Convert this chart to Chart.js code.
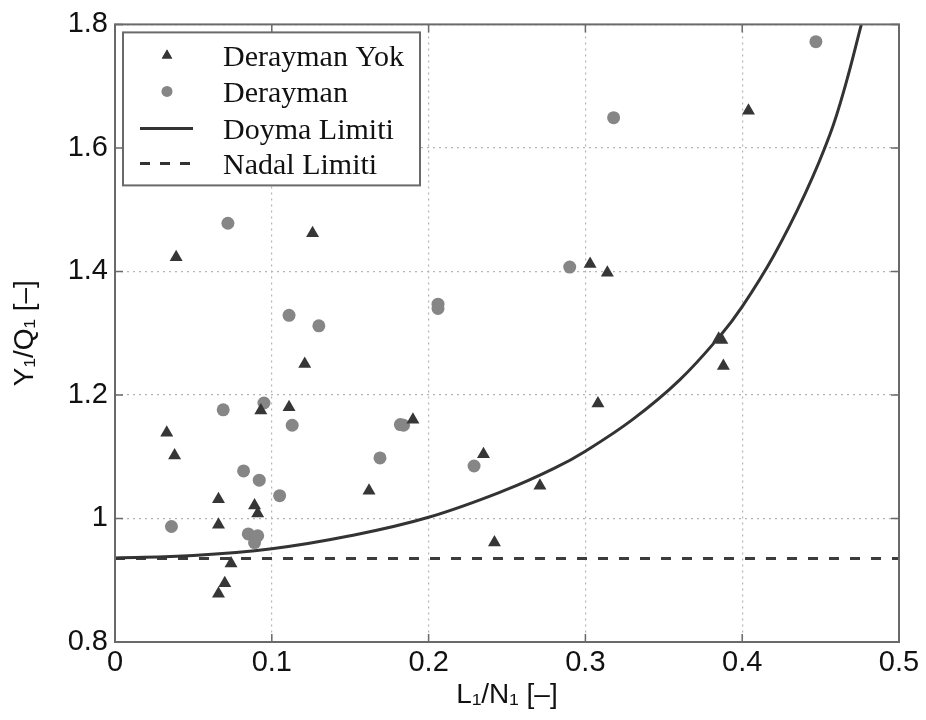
<!DOCTYPE html>
<html>
<head>
<meta charset="utf-8">
<script src="https://cdn.jsdelivr.net/npm/chart.js@4/dist/chart.umd.min.js"></script>
<style>
  body { margin: 0; background: #fff; }
</style>
</head>
<body>
<canvas id="myChart" width="926" height="720"></canvas>
<script>
// Derayman Yok (triangles)
const triX = [0.033, 0.038, 0.039, 0.066, 0.066, 0.066, 0.070, 0.074, 0.089, 0.091, 0.093, 0.111, 0.121, 0.126,
  0.162, 0.190, 0.235, 0.242, 0.271, 0.303, 0.308, 0.314, 0.385, 0.387, 0.388, 0.404];
const triY = [1.139, 1.102, 1.423, 1.031, 0.990, 0.878, 0.895, 0.927, 1.021, 1.008, 1.175, 1.180, 1.250, 1.462,
  1.045, 1.160, 1.104, 0.961, 1.053, 1.412, 1.186, 1.398, 1.291, 1.289, 1.247, 1.660];

// Derayman (circles)
const cirX = [0.036, 0.069, 0.072, 0.082, 0.085, 0.089, 0.091, 0.092, 0.095, 0.105, 0.111, 0.113, 0.130,
  0.169, 0.182, 0.184, 0.206, 0.206, 0.229, 0.290, 0.318, 0.447];
const cirY = [0.987, 1.176, 1.478, 1.077, 0.975, 0.961, 0.972, 1.062, 1.187, 1.037, 1.329, 1.151, 1.312,
  1.098, 1.152, 1.151, 1.347, 1.340, 1.085, 1.407, 1.649, 1.772];

// Doyma Limiti (curve)
const limX = [0, 0.05, 0.10, 0.15, 0.20, 0.25, 0.28, 0.30, 0.33, 0.36, 0.386, 0.40, 0.42, 0.44, 0.456, 0.466, 0.476];
const limY = [0.936, 0.940, 0.951, 0.972, 1.002, 1.047, 1.081, 1.109, 1.160, 1.224, 1.296, 1.343, 1.425, 1.525, 1.622, 1.703, 1.800];

// Nadal Limiti
const nadalX = [0, 0.5];
const nadalY = [0.935, 0.935];

const xTicks = [0, 0.1, 0.2, 0.3, 0.4, 0.5];
const yTicks = [0.8, 1.0, 1.2, 1.4, 1.6, 1.8];

const legendNames = ['Derayman Yok', 'Derayman', 'Doyma Limiti', 'Nadal Limiti'];

const triColor = '#363636';
const cirColor = '#868686';
const lineColor = '#333333';

function pts(xs, ys) {
  return xs.map((x, i) => ({ x: x, y: ys[i] }));
}

// frame + inward ticks like matlab
const framePlugin = {
  id: 'frame',
  afterDraw(chart) {
    const ctx = chart.ctx;
    const a = chart.chartArea;
    const xs = chart.scales.x, ys = chart.scales.y;
    ctx.save();
    ctx.strokeStyle = '#6a6a6a';
    ctx.lineWidth = 2;
    ctx.strokeRect(a.left, a.top, a.right - a.left, a.bottom - a.top);
    ctx.lineWidth = 1.5;
    ctx.beginPath();
    xTicks.forEach(v => {
      const px = xs.getPixelForValue(v);
      ctx.moveTo(px, a.bottom); ctx.lineTo(px, a.bottom - 8);
      ctx.moveTo(px, a.top); ctx.lineTo(px, a.top + 8);
    });
    yTicks.forEach(v => {
      const py = ys.getPixelForValue(v);
      ctx.moveTo(a.left, py); ctx.lineTo(a.left + 8, py);
      ctx.moveTo(a.right, py); ctx.lineTo(a.right - 8, py);
    });
    ctx.stroke();
    ctx.restore();
  }
};

// legend box inside the plot, top-left
const legendPlugin = {
  id: 'boxLegend',
  afterDraw(chart) {
    const ctx = chart.ctx;
    const a = chart.chartArea;
    const bx = a.left + 8, by = a.top + 8, bw = 297, bh = 153;
    ctx.save();
    ctx.fillStyle = '#fff';
    ctx.fillRect(bx, by, bw, bh);
    ctx.strokeStyle = '#6a6a6a';
    ctx.lineWidth = 2;
    ctx.strokeRect(bx, by, bw, bh);

    const rows = [23, 59, 96, 131];
    const mx = bx + 44;
    // triangle
    ctx.fillStyle = triColor;
    Chart.helpers.drawPoint(ctx, { pointStyle: 'triangle', radius: 6, borderWidth: 0 }, mx, by + rows[0]);
    ctx.fill();
    // circle
    ctx.fillStyle = cirColor;
    ctx.beginPath();
    ctx.arc(mx, by + rows[1], 5.5, 0, Math.PI * 2);
    ctx.fill();
    // solid
    ctx.strokeStyle = lineColor;
    ctx.lineWidth = 3;
    ctx.beginPath();
    ctx.moveTo(bx + 17, by + rows[2]); ctx.lineTo(bx + 70, by + rows[2]);
    ctx.stroke();
    // dashed
    ctx.setLineDash([10, 10]);
    ctx.beginPath();
    ctx.moveTo(bx + 17, by + rows[3]); ctx.lineTo(bx + 70, by + rows[3]);
    ctx.stroke();
    ctx.setLineDash([]);

    ctx.fillStyle = '#111';
    ctx.font = '30px "Liberation Serif", "Times New Roman", serif';
    ctx.textBaseline = 'alphabetic';
    ctx.textAlign = 'left';
    legendNames.forEach((t, i) => {
      ctx.fillText(t, bx + 100, by + rows[i] + 11);
    });
    ctx.restore();
  }
};

const tickFont = { family: '"Liberation Sans", Arial, sans-serif', size: 29 };

new Chart(document.getElementById('myChart'), {
  type: 'scatter',
  data: {
    datasets: [
      {
        label: legendNames[0],
        data: pts(triX, triY),
        pointStyle: 'triangle',
        pointRadius: 7.5,
        backgroundColor: triColor,
        borderColor: triColor,
        borderWidth: 0
      },
      {
        label: legendNames[1],
        data: pts(cirX, cirY),
        pointStyle: 'circle',
        pointRadius: 6.5,
        backgroundColor: cirColor,
        borderColor: cirColor,
        borderWidth: 0
      },
      {
        label: legendNames[2],
        data: pts(limX, limY),
        showLine: true,
        pointRadius: 0,
        borderColor: lineColor,
        borderWidth: 3,
        tension: 0.4,
        fill: false
      },
      {
        label: legendNames[3],
        data: pts(nadalX, nadalY),
        showLine: true,
        pointRadius: 0,
        borderColor: '#3c3c3c',
        borderWidth: 3,
        borderDash: [10, 11],
        fill: false
      }
    ]
  },
  options: {
    responsive: false,
    animation: false,
    clip: true,
    layout: { padding: { top: 21, right: 27, left: 0, bottom: 0 } },
    plugins: {
      legend: { display: false },
      tooltip: { enabled: false }
    },
    scales: {
      x: {
        type: 'linear',
        min: 0,
        max: 0.5,
        afterBuildTicks(s) { s.ticks = xTicks.map(v => ({ value: v })); },
        afterFit(s) { s.height = 78; },
        ticks: {
          color: '#111',
          font: tickFont,
          padding: 4,
          maxRotation: 0,
          callback: v => String(Number(v.toFixed(2)))
        },
        grid: { color: '#b4b4b4', lineWidth: 1.2, drawTicks: false },
        border: { display: false, dash: [2, 4] },
        title: {
          display: true,
          text: 'L₁/N₁ [–]',
          color: '#111',
          font: { family: '"Liberation Sans", Arial, sans-serif', size: 28 },
          padding: { top: 0, bottom: 8 }
        }
      },
      y: {
        type: 'linear',
        min: 0.8,
        max: 1.8,
        afterBuildTicks(s) { s.ticks = yTicks.map(v => ({ value: v })); },
        afterFit(s) { s.width = 115; },
        ticks: {
          color: '#111',
          font: tickFont,
          padding: 7,
          callback: v => String(Number(v.toFixed(2)))
        },
        grid: { color: '#b4b4b4', lineWidth: 1.2, drawTicks: false },
        border: { display: false, dash: [2, 4] },
        title: {
          display: true,
          text: 'Y₁/Q₁ [–]',
          color: '#111',
          font: { family: '"Liberation Sans", Arial, sans-serif', size: 28 },
          padding: { top: 8, bottom: 0 }
        }
      }
    }
  },
  plugins: [framePlugin, legendPlugin]
});
</script>
</body>
</html>
